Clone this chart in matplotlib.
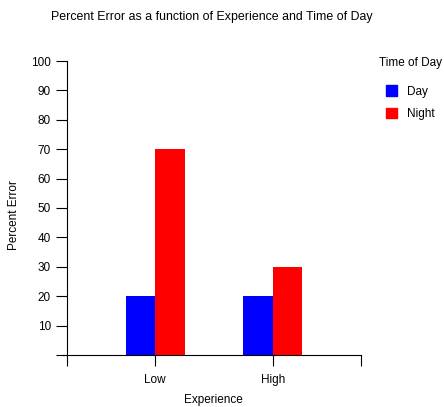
import numpy as np
import matplotlib.pyplot as plt
from matplotlib.patches import Patch

plt.rcParams['font.family'] = ['Liberation Sans', 'DejaVu Sans']

experience = ['Low', 'High']
day_error = [20, 20]
night_error = [70, 30]
series = ['Day', 'Night']
colors = ['#0000ff', '#ff0000']

W, H = 444, 407
fig = plt.figure(figsize=(W / 100, H / 100), dpi=100)
ax = fig.add_axes([67 / W, (H - 355) / H, (361 - 67) / W, (355 - 61) / H])

x = np.arange(1, len(experience) + 1)
w = 0.25
ax.bar(x - w / 2, day_error, w, color=colors[0])
ax.bar(x + w / 2, night_error, w, color=colors[1])

ax.set_xlim(0.25, 2.75)
ax.set_ylim(0, 100)
ax.set_yticks(np.arange(0, 101, 10))
ax.set_yticklabels([''] + [str(v) for v in range(10, 101, 10)])
ax.set_xticks(list(x) + [0.25, 2.75])
ax.set_xticklabels(experience + ['', ''])
ax.tick_params(axis='both', labelsize=8.5, length=8, width=0.8, colors='black')
ax.tick_params(axis='x', pad=6)
for t in ax.xaxis.get_ticklines()[:4]:
    t.set_color('#888888')

for s in ['top', 'right']:
    ax.spines[s].set_visible(False)
ax.spines['left'].set_linewidth(0.8)
ax.spines['bottom'].set_linewidth(0.8)
ax.spines['bottom'].set_bounds(0.25 - 0.035, 2.75)

fig.text(213 / W, 1 - 400 / H, 'Experience', ha='center', va='center', fontsize=8.5)
fig.text(14 / W, 1 - 215 / H, 'Percent Error', ha='center', va='center',
         rotation=90, fontsize=8.5)
fig.text(212 / W, 1 - 17 / H, 'Percent Error as a function of Experience and Time of Day',
         ha='center', va='center', fontsize=8.9)

handles = [Patch(color=c, label=l) for c, l in zip(colors, series)]
leg = fig.legend(handles=handles, title='Time of Day', loc='upper left',
                 bbox_to_anchor=(368 / W, 1 - 46 / H), frameon=False,
                 fontsize=8.5, title_fontsize=8.5, handlelength=1.0, handleheight=1.0,
                 labelspacing=0.85, handletextpad=0.8)
leg._legend_box.sep = 12

fig.savefig('out.png', dpi=100)
